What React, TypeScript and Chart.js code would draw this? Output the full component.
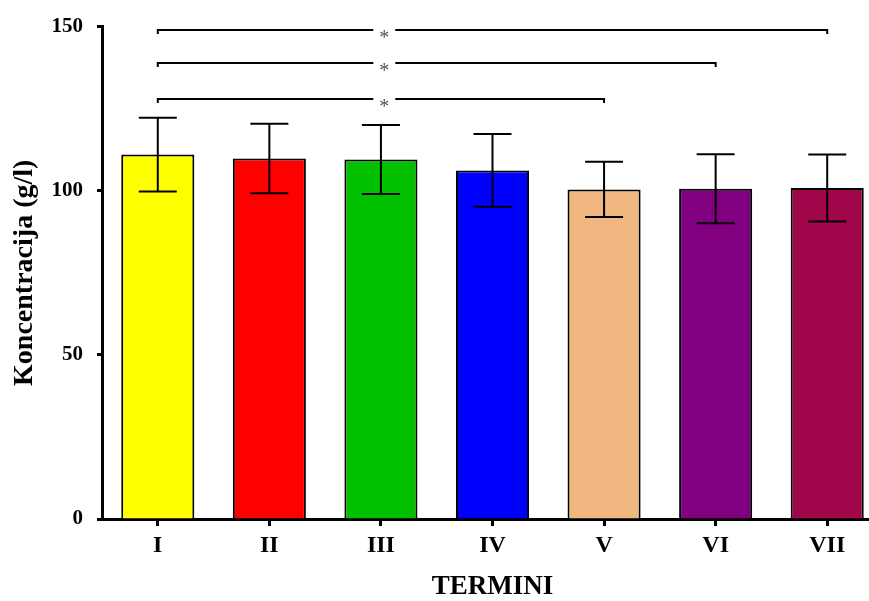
import { useEffect, useRef } from "react";
import { Chart, registerables } from "chart.js";

Chart.register(...registerables);

// Measurement periods and the mean concentration (g/l) with its SD
const categories = ["I", "II", "III", "IV", "V", "VI", "VII"];
const means = [111.0, 109.8, 109.5, 106.2, 100.4, 100.6, 100.8];
const sds = [11.2, 10.6, 10.5, 11.1, 8.4, 10.5, 10.2];
const barColors = ["#FFFF00", "#FF0000", "#00C000", "#0000FF", "#F0B880", "#800080", "#A0064A"];
const yTicks = [0, 50, 100, 150];

// Significance brackets: compared periods, level on the y axis and label
const bracketFrom = [0, 0, 0];
const bracketTo = [4, 5, 6];
const bracketLevel = [127.9, 138.8, 149.0];
const bracketLabel = ["*", "*", "*"];

const FONT = "'Liberation Serif', 'Times New Roman', serif";

const errorBarsAndBrackets = {
  id: "errorBarsAndBrackets",
  afterDatasetsDraw(chart: any) {
    const { ctx } = chart;
    const xs = chart.scales.x;
    const ys = chart.scales.y;
    const meta = chart.getDatasetMeta(0);
    ctx.save();
    ctx.strokeStyle = "#000";
    ctx.lineWidth = 2;
    ctx.lineCap = "butt";

    // mean ± SD whiskers
    meta.data.forEach((bar: any, i: number) => {
      const cx = bar.x;
      const half = bar.width * 0.26;
      const top = ys.getPixelForValue(means[i] + sds[i]);
      const bot = ys.getPixelForValue(means[i] - sds[i]);
      ctx.beginPath();
      ctx.moveTo(cx, top);
      ctx.lineTo(cx, bot);
      ctx.moveTo(cx - half, top);
      ctx.lineTo(cx + half, top);
      ctx.moveTo(cx - half, bot);
      ctx.lineTo(cx + half, bot);
      ctx.stroke();
    });

    // brackets with the label placed over the third period
    const c2 = xs.getPixelForValue(2);
    const c3 = xs.getPixelForValue(3);
    const sx = c2 + 0.03 * (c3 - c2);
    const gap = 11;
    ctx.font = `20px ${FONT}`;
    ctx.textAlign = "center";
    ctx.textBaseline = "alphabetic";
    bracketFrom.forEach((from, k) => {
      const xa = xs.getPixelForValue(from);
      const xb = xs.getPixelForValue(bracketTo[k]);
      const yy = Math.round(ys.getPixelForValue(bracketLevel[k]));
      ctx.strokeStyle = "#000";
      ctx.beginPath();
      ctx.moveTo(xa, yy + 4);
      ctx.lineTo(xa, yy);
      ctx.lineTo(sx - gap, yy);
      ctx.moveTo(sx + gap, yy);
      ctx.lineTo(xb, yy);
      ctx.lineTo(xb, yy + 4);
      ctx.stroke();
      ctx.fillStyle = "#555";
      ctx.fillText(bracketLabel[k], sx, yy + 14);
    });
    ctx.restore();
  },
};

export default function App() {
  const canvasRef = useRef<HTMLCanvasElement | null>(null);

  useEffect(() => {
    const canvas = canvasRef.current;
    if (!canvas) return;
    const chart = new Chart(canvas, {
      type: "bar",
      data: {
        labels: categories,
        datasets: [
          {
            data: means,
            backgroundColor: barColors,
            borderColor: "#000",
            borderWidth: 2,
            barPercentage: 0.655,
            categoryPercentage: 1,
          },
        ],
      },
      options: {
        responsive: false,
        animation: false,
        devicePixelRatio: 1,
        layout: { padding: { top: 24, right: 7, left: 0, bottom: 0 } },
        plugins: {
          legend: { display: false },
          tooltip: { enabled: false },
        },
        scales: {
          x: {
            offset: true,
            afterFit: (scale: any) => {
              scale.height = 82;
            },
            grid: {
              display: true,
              offset: false,
              drawOnChartArea: false,
              drawTicks: true,
              tickLength: 7,
              tickWidth: 3,
              tickColor: "#000",
            },
            border: { display: true, width: 3, color: "#000" },
            ticks: {
              color: "#000",
              padding: 5,
              maxRotation: 0,
              font: { family: FONT, size: 24, weight: "bold", lineHeight: 1.2 },
            },
            title: {
              display: true,
              text: "TERMINI",
              color: "#000",
              padding: { top: 0, bottom: 0 },
              font: { family: FONT, size: 27, weight: "bold", lineHeight: 1 },
            },
          },
          y: {
            min: 0,
            max: 150,
            afterFit: (scale: any) => {
              scale.width = 102;
            },
            afterBuildTicks: (scale: any) => {
              scale.ticks = yTicks.map((v) => ({ value: v }));
            },
            grid: {
              display: true,
              drawOnChartArea: false,
              drawTicks: true,
              tickLength: 5,
              tickWidth: 3,
              tickColor: "#000",
            },
            border: { display: true, width: 3, color: "#000" },
            ticks: {
              color: "#000",
              padding: 14,
              font: { family: FONT, size: 21, weight: "bold" },
            },
            title: {
              display: true,
              text: "Koncentracija (g/l)",
              color: "#000",
              padding: { top: 11, bottom: 0 },
              font: { family: FONT, size: 28, weight: "bold", lineHeight: 1 },
            },
          },
        },
      },
      plugins: [errorBarsAndBrackets],
    });
    return () => chart.destroy();
  }, []);

  return (
    <div
      style={{
        position: "fixed",
        left: 0,
        top: 0,
        width: 869,
        height: 601,
        overflow: "hidden",
        background: "#fff",
      }}
    >
      <canvas ref={canvasRef} width={890} height={601} style={{ width: 890, height: 601, display: "block" }} />
    </div>
  );
}
